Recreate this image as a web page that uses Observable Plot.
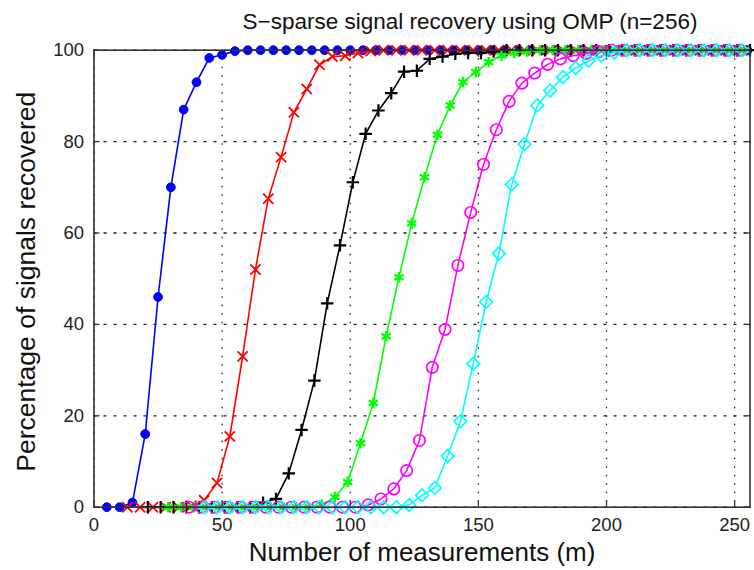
<!DOCTYPE html>
<html>
<head>
<meta charset="utf-8">
<script src="https://cdn.jsdelivr.net/npm/d3@7"></script>
<script src="https://cdn.jsdelivr.net/npm/@observablehq/plot@0.6"></script>
<style>
  html, body { margin: 0; padding: 0; background: #fff; }
  #chart svg { display: block; }
</style>
</head>
<body>
<div id="chart"></div>
<script>
// Number of measurements (m) for each sparsity curve
const mBlue = [5,10,15,20,25,30,35,40,45,50,55,60,65,70,75,80,85,90,95,100,105,110,115,120,125,130,135,140,145,150,155,160,165,170,175,180,185,190,195,200,205,210,215,220,225,230,235,240,245,250,255];
const mRed = [13,18,23,28,33,38,43,48,53,58,63,68,73,78,83,88,93,98,103,108,113,118,123,128,133,138,143,148,153,158,163,168,173,178,183,188,193,198,203,208,213,218,223,228,233,238,243,248,253];
const mBlack = [21,26,31,36,41,46,51,56,61,66,71,76,81,86,91,96,101,106,111,116,121,126,131,136,141,146,151,156,161,166,171,176,181,186,191,196,201,206,211,216,221,226,231,236,241,246,251,256];
const mGreen = [29,34,39,44,49,54,59,64,69,74,79,84,89,94,99,104,109,114,119,124,129,134,139,144,149,154,159,164,169,174,179,184,189,194,199,204,209,214,219,224,229,234,239,244,249,254];
const mMagenta = [37,42,47,52,57,62,67,72,77,82,87,92,97,102,107,112,117,122,127,132,137,142,147,152,157,162,167,172,177,182,187,192,197,202,207,212,217,222,227,232,237,242,247,252];
const mCyan = [43,48,53,58,63,68,73,78,83,88,93,98,103,108,113,118,123,128,133,138,143,148,153,158,163,168,173,178,183,188,193,198,203,208,213,218,223,228,233,238,243,248,253];

// Percentage of signals recovered
const pBlue = [0,0,1,16,46,70,87,93,98.3,99,99.8,100,100,100,100,100,100,100,100,100,100,100,100,100,100,100,100,100,100,100,100,100,100,100,100,100,100,100,100,100,100,100,100,100,100,100,100,100,100,100,100];
const pRed = [0,0,0,0,0,0.3,1.5,5.3,15.5,33,52,67.5,76.6,86.4,91.5,96.8,98.6,98.8,99.4,99.8,100,100,100,100,100,100,100,100,100,100,100,100,100,100,100,100,100,100,100,100,100,100,100,100,100,100,100,100,100];
const pBlack = [0,0,0,0,0,0,0,0,0,1,1.8,7.4,16.9,27.7,44.6,57.3,71.1,81.7,86.8,90.6,95.3,95.5,98.1,98.6,99.2,99.4,99.4,99.7,100,100,100,100,100,100,100,100,100,100,100,100,100,100,100,100,100,100,100,100];
const pGreen = [0,0,0,0,0,0,0,0,0,0,0,0,0.5,2.2,5.5,14,22.8,37.4,50.3,62.1,72.2,81.5,87.9,93,95.2,97.4,98.8,99.4,99.7,100,100,100,100,100,100,100,100,100,100,100,100,100,100,100,100,100];
const pMagenta = [0,0,0,0,0,0,0,0,0,0,0,0,0,0,0.5,1.8,4,8,14.6,30.6,38.9,52.9,64.5,75,82.6,88.8,92.8,95,96.9,98.1,98.8,99.3,99.7,100,100,100,100,100,100,100,100,100,100,100];
const pCyan = [0,0,0,0,0,0,0,0,0,0,0,0,0,0,0,0,0.5,2.6,4.2,11.2,18.8,31.4,44.9,55.5,70.6,79.4,87.9,91.2,94.1,96.1,97.7,98.8,99.5,100,100,100,100,100,100,100,100,100,100];

const xTicks = [0,50,100,150,200,250];
const yTicks = [0,20,40,60,80,100];

const titleText = "S\u2212sparse signal recovery using OMP (n=256)";
const xLabel = "Number of measurements (m)";
const yLabel = "Percentage of signals recovered";

const series = [
  {m: mBlue, p: pBlue, color: "#0000ff", symbol: "circle", r: 4.4, fill: "#0000ff", sw: 1},
  {m: mRed, p: pRed, color: "#ff0000", symbol: "times", r: 4.7, fill: "none", sw: 1.8},
  {m: mBlack, p: pBlack, color: "#000000", symbol: "plus", r: 4.1, fill: "none", sw: 2.2},
  {m: mGreen, p: pGreen, color: "#00ff00", symbol: "asterisk", r: 5, fill: "none", sw: 2.3},
  {m: mMagenta, p: pMagenta, color: "#ff00ff", symbol: "circle", r: 5.7, fill: "none", sw: 1.7},
  {m: mCyan, p: pCyan, color: "#00ffff", symbol: "diamond2", r: 5.7, fill: "none", sw: 1.7}
];

const seriesMarks = [];
for (const s of series) {
  const rows = s.m.map((m, i) => ({m, p: s.p[i]}));
  seriesMarks.push(Plot.line(rows, {x: "m", y: "p", stroke: s.color, strokeWidth: 1.6}));
  seriesMarks.push(Plot.dot(rows, {
    x: "m", y: "p", symbol: () => s.symbol, r: s.r,
    stroke: s.color, fill: s.fill, strokeWidth: s.sw
  }));
}

const chart = Plot.plot({
  width: 754,
  height: 570,
  marginLeft: 93.5,
  marginRight: 4.5,
  marginTop: 49.7,
  marginBottom: 63.3,
  x: {domain: [0, 256]},
  y: {domain: [0, 100]},
  symbol: {type: "identity"},
  style: {fontFamily: "'Liberation Sans', Arial, sans-serif", background: "#fff", color: "#222"},
  marks: [
    Plot.gridX(xTicks, {stroke: "#000", strokeOpacity: 0.9, strokeDasharray: "1.5,7", strokeWidth: 1.3}),
    Plot.gridY(yTicks, {stroke: "#000", strokeOpacity: 0.9, strokeDasharray: "3,7", strokeWidth: 1.3}),
    ...seriesMarks,
    Plot.frame({stroke: "#333", strokeWidth: 1.6}),
    Plot.axisX(xTicks, {anchor: "bottom", tickSize: 0, tickPadding: 11, fontSize: 18.5, label: null, tickFormat: d => String(d)}),
    Plot.axisX(xTicks, {anchor: "bottom", tickSize: -6, tickFormat: () => "", label: null, stroke: "#333", strokeWidth: 1.3}),
    Plot.axisX(xTicks, {anchor: "top", tickSize: -6, tickFormat: () => "", label: null, stroke: "#333", strokeWidth: 1.3}),
    Plot.axisY(yTicks, {anchor: "left", tickSize: 0, tickPadding: 10, fontSize: 18.5, label: null, tickFormat: d => String(d)}),
    Plot.axisY(yTicks, {anchor: "left", tickSize: -6, tickFormat: () => "", label: null, stroke: "#333", strokeWidth: 1.3}),
    Plot.axisY(yTicks, {anchor: "right", tickSize: -6, tickFormat: () => "", label: null, stroke: "#333", strokeWidth: 1.3}),
    Plot.text([titleText], {frameAnchor: "top", textAnchor: "middle", lineAnchor: "middle", dx: 48, dy: -28, fontSize: 22.5, fill: "#111"}),
    Plot.text([xLabel], {frameAnchor: "bottom", textAnchor: "middle", lineAnchor: "middle", dy: 45.5, fontSize: 26, fill: "#111"}),
    Plot.text([yLabel], {frameAnchor: "left", textAnchor: "middle", lineAnchor: "middle", dx: -67, dy: 3, rotate: -90, fontSize: 26.5, fill: "#111"})
  ]
});
document.getElementById("chart").appendChild(chart);
</script>
</body>
</html>
